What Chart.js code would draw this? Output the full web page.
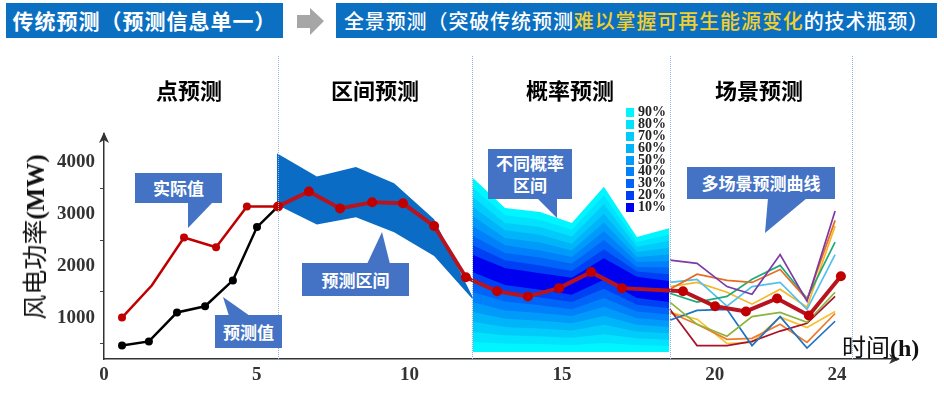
<!DOCTYPE html>
<html lang="zh">
<head>
<meta charset="UTF-8">
<title>风电功率预测</title>
<script src="https://cdn.jsdelivr.net/npm/chart.js"></script>
<style>
  body { margin: 0; background: #fff; }
  #wrap { position: relative; width: 944px; height: 412px; overflow: hidden; font-family: "Noto Sans CJK SC", sans-serif; }
  #chart { position: absolute; left: 0; top: 0; }
  .abs { position: absolute; }
  .banner { position: absolute; top: 3px; height: 35px; background: #0b6fc2; color: #fff; line-height: 35px; white-space: nowrap; }
  .sec { position: absolute; top: 73px; font-size: 22px; font-weight: 700; color: #000; transform: translateX(-50%); white-space: nowrap; }
  .vline { position: absolute; top: 56px; height: 303px; border-left: 1px dotted #8fb3e2; }
  .call { position: absolute; background: #4472c4; color: #fff; font-size: 17px; font-weight: 700; text-align: center; display: flex; align-items: center; justify-content: center; line-height: 22px; }
  .tail { position: absolute; left: 0; top: 0; width: 944px; height: 412px; background: #4472c4; }
  .serif { font-family: "Liberation Serif", serif; font-weight: 700; }
  #legend { position: absolute; left: 626px; top: 106px; }
  #legend div { height: 11.9px; line-height: 12px; font-family: "Liberation Serif", serif; font-weight: 700; font-size: 14px; color: #222; white-space: nowrap; }
  #legend span { display: inline-block; width: 8px; height: 9px; margin-right: 4px; vertical-align: -1px; }
</style>
</head>
<body>
<div id="wrap">
  <canvas id="chart" width="944" height="412"></canvas>

  <div class="vline" style="left:278px"></div>
  <div class="vline" style="left:472px"></div>
  <div class="vline" style="left:670px"></div>
  <div class="vline" style="left:852px"></div>

  <div class="banner" style="left:6px;width:277px;font-size:21px;font-weight:700;letter-spacing:1px;text-align:center">传统预测（预测信息单一）</div>
  <div class="abs" style="left:297px;top:8px;width:27px;height:27px;background:#a6a6a6;clip-path:polygon(0 7px,13px 7px,13px 0,27px 13px,13px 27px,13px 20px,0 20px)"></div>
  <div class="banner" style="left:336px;width:601px;font-size:20px;letter-spacing:0.9px;font-weight:500;text-align:center">全景预测（突破传统预测<span style="color:#f3cf2c">难以掌握可再生能源变化</span>的技术瓶颈）</div>

  <div class="sec" style="left:189px">点预测</div>
  <div class="sec" style="left:375px">区间预测</div>
  <div class="sec" style="left:570px">概率预测</div>
  <div class="sec" style="left:759px">场景预测</div>

  <div class="abs" style="left:33px;top:237px;transform:translate(-50%,-50%) rotate(-90deg);font-size:25px;white-space:nowrap;color:#111">风电功率<span class="serif">(MW)</span></div>
  <div class="abs" style="left:842px;top:328px;font-size:24px;white-space:nowrap;color:#111">时间<span class="serif">(h)</span></div>

  <div class="tail" style="clip-path:polygon(188px 202px,213px 202px,188px 228px)"></div>
  <div class="call" style="left:135px;top:173px;width:87px;height:30px">实际值</div>
  <div class="tail" style="clip-path:polygon(223px 297px,250px 316px,229px 316px)"></div>
  <div class="call" style="left:215px;top:315px;width:67px;height:33px">预测值</div>
  <div class="tail" style="clip-path:polygon(367px 264px,390px 264px,382px 232px)"></div>
  <div class="call" style="left:302px;top:263px;width:107px;height:33px">预测区间</div>
  <div class="tail" style="clip-path:polygon(537px 198px,557px 198px,557px 218px)"></div>
  <div class="call" style="left:488px;top:149px;width:84px;height:50px">不同概率<br>区间</div>
  <div class="tail" style="clip-path:polygon(768px 198px,807px 198px,765px 233px)"></div>
  <div class="call" style="left:687px;top:167px;width:148px;height:32px">多场景预测曲线</div>

  <div id="legend"></div>
</div>
<script>
  // axis ticks
  const xTicks = [0, 5, 10, 15, 20, 24];
  const yTicks = [500, 1000, 1500, 2000, 2500, 3000, 3500, 4000];

  // point forecast: actual (red) and predicted (black)
  const actualX = [0.59, 1.57, 2.62, 3.67, 4.68, 5.70, 6.71, 7.73, 8.78, 9.79, 10.81, 11.85,
                   12.87, 13.88, 14.90, 15.95, 16.96, 18.96, 20.01, 21.02, 22.04, 23.08, 24.13];
  const actualY = [1000, 1625, 2550, 2360, 3150, 3150, 3440, 3110, 3230, 3210, 2770, 1780,
                   1510, 1410, 1570, 1880, 1570, 1510, 1220, 1120, 1370, 1040, 1800];
  const predX = [0.59, 1.47, 2.39, 3.31, 4.22, 5.01, 5.70];
  const predY = [460, 540, 1100, 1220, 1720, 2750, 3150];

  // interval forecast band
  const bandX = [5.66, 6.97, 8.25, 9.50, 10.81, 12.08];
  const bandUpper = [4180, 3730, 3910, 3600, 2900, 1390];
  const bandLower = [3180, 2800, 2940, 2650, 2190, 1350];

  // probabilistic forecast, one row per level (10% .. 90%)
  const fanX = [12.08, 13.13, 14.28, 15.32, 16.37, 17.45, 18.50];
  const fanLevels = ['10%', '20%', '30%', '40%', '50%', '60%', '70%', '80%', '90%'];
  const fanUpper = [
    [2210, 1960, 1860, 1770, 2150, 1790, 1710],
    [2400, 2110, 2010, 1900, 2320, 1890, 1840],
    [2580, 2250, 2160, 2040, 2500, 1980, 1970],
    [2770, 2400, 2300, 2170, 2670, 2080, 2090],
    [2960, 2540, 2450, 2300, 2840, 2170, 2220],
    [3140, 2690, 2600, 2430, 3010, 2270, 2350],
    [3330, 2830, 2750, 2570, 3190, 2370, 2480],
    [3510, 2980, 2890, 2700, 3360, 2460, 2600],
    [3700, 3120, 3040, 2830, 3530, 2560, 2730]
  ];
  const fanLower = [
    [1880, 1630, 1540, 1440, 1730, 1380, 1300],
    [1690, 1470, 1390, 1300, 1560, 1250, 1180],
    [1490, 1310, 1240, 1160, 1380, 1120, 1060],
    [1300, 1140, 1090, 1030, 1210, 990, 940],
    [1110, 980, 940, 890, 1030, 860, 820],
    [920, 820, 790, 750, 860, 730, 700],
    [720, 660, 640, 610, 680, 600, 570],
    [530, 500, 490, 470, 510, 470, 450],
    [335, 335, 335, 335, 335, 335, 335]
  ];
  const fanColors = ['#0000f0', '#0040f5', '#0064f8', '#0080fa', '#009bfa', '#00b4fa', '#00cbfb', '#00e2fd', '#00f6ff'];

  // scenario forecast curves
  const scenX = [18.53, 19.42, 20.40, 21.22, 22.14, 23.02, 23.94];
  const scenarios = [
    [2110, 2050, 1600, 1450, 2220, 1320, 3060],
    [1550, 1840, 1720, 1680, 1930, 1350, 2880],
    [1470, 1300, 1410, 1740, 2010, 1370, 2460],
    [1680, 1740, 1220, 1600, 1680, 1160, 2220],
    [1600, 1680, 1490, 1260, 1550, 1200, 2770],
    [1300, 870, 640, 1020, 1100, 910, 1490],
    [950, 1140, 1160, 460, 1020, 410, 930],
    [1160, 460, 460, 540, 740, 890, 1410],
    [1100, 870, 580, 600, 870, 520, 1080],
    [1100, 970, 500, 520, 1010, 810, 1120]
  ];
  const scenColors = ['#7d3aa6', '#e66c22', '#1fac7a', '#52c0ee', '#f5b824', '#8db43c', '#1f72c4', '#a8122a', '#ef7b2a', '#f7c12f'];

  const xy = (xs, ys) => xs.map((x, i) => ({ x: x, y: ys[i] }));

  const datasets = [];
  datasets.push({
    label: '实际值', data: xy(actualX, actualY), order: 0,
    borderColor: '#c00000', backgroundColor: '#c00000', borderWidth: 2.5,
    pointRadius: actualX.map((x, i) => i === 1 ? 0 : (x < 5.6 ? 4 : 5)),
    pointBorderWidth: 0,
    segment: {
      borderWidth: c => c.p0.parsed.x >= 5.6 ? 4 : 2.5,
      borderColor: c => c.p0.parsed.x >= 5.6 ? '#b8141f' : '#c00000'
    }
  });
  datasets.push({
    label: '预测值', data: xy(predX, predY), order: 1,
    borderColor: '#000', backgroundColor: '#000', borderWidth: 2.5,
    pointRadius: 4, pointBorderWidth: 0
  });
  scenarios.forEach((s, i) => datasets.push({
    data: xy(scenX, s), order: 2, borderColor: scenColors[i], borderWidth: 1.7, pointRadius: 0
  }));
  datasets.push({ data: xy(bandX, bandUpper), order: 50, fill: '+1', backgroundColor: '#0b6cc6', borderColor: 'transparent', borderWidth: 0, pointRadius: 0 });
  datasets.push({ data: xy(bandX, bandLower), order: 50, fill: false, borderColor: 'transparent', borderWidth: 0, pointRadius: 0 });
  fanLevels.forEach((lv, i) => {
    datasets.push({ label: lv, data: xy(fanX, fanUpper[i]), order: 60 + i, fill: '+1', backgroundColor: fanColors[i], borderColor: 'transparent', borderWidth: 0, pointRadius: 0 });
    datasets.push({ data: xy(fanX, fanLower[i]), order: 60 + i, fill: false, borderColor: 'transparent', borderWidth: 0, pointRadius: 0 });
  });

  // legend for the probability levels
  const legend = document.getElementById('legend');
  fanLevels.slice().reverse().forEach((lv, i) => {
    const row = document.createElement('div');
    row.innerHTML = '<span style="background:' + fanColors[fanLevels.length - 1 - i] + '"></span>' + lv;
    legend.appendChild(row);
  });

  // arrow heads on both axes
  const axisArrows = {
    id: 'axisArrows',
    afterDraw(chart) {
      const { ctx, chartArea: a } = chart;
      ctx.save();
      ctx.fillStyle = '#333';
      ctx.beginPath();
      ctx.moveTo(a.right + 2, a.bottom);
      ctx.lineTo(a.right - 9, a.bottom - 5);
      ctx.lineTo(a.right - 6, a.bottom);
      ctx.lineTo(a.right - 9, a.bottom + 5);
      ctx.closePath();
      ctx.fill();
      ctx.beginPath();
      ctx.moveTo(a.left, a.top - 2);
      ctx.lineTo(a.left - 5, a.top + 9);
      ctx.lineTo(a.left, a.top + 6);
      ctx.lineTo(a.left + 5, a.top + 9);
      ctx.closePath();
      ctx.fill();
      ctx.restore();
    }
  };

  new Chart(document.getElementById('chart').getContext('2d'), {
    type: 'line',
    data: { datasets: datasets },
    options: {
      responsive: false,
      animation: false,
      layout: { padding: { left: 0, top: 134, right: 46, bottom: 0 } },
      plugins: { legend: { display: false }, tooltip: { enabled: false } },
      scales: {
        x: {
          type: 'linear', min: 0, max: 26,
          afterBuildTicks: s => { s.ticks = xTicks.map(v => ({ value: v })); },
          afterFit: s => { s.height = 53; },
          grid: { display: false, drawTicks: false },
          border: { display: true, color: '#333', width: 1.5 },
          ticks: { padding: 5, autoSkip: false, maxRotation: 0, color: '#333', font: { family: 'Liberation Serif', weight: 'bold', size: 19 } }
        },
        y: {
          min: 200, max: 4550,
          afterBuildTicks: s => { s.ticks = yTicks.map(v => ({ value: v })); },
          afterFit: s => { s.width = 104; },
          grid: { drawOnChartArea: false, drawTicks: true, tickLength: 4, color: c => (c.tick && c.tick.value % 1000 === 500) ? '#444' : 'transparent' },
          border: { display: true, color: '#333', width: 1.5 },
          ticks: {
            padding: 5, autoSkip: false, color: '#333',
            font: { family: 'Liberation Serif', weight: 'bold', size: 19 },
            callback: v => v % 1000 === 0 ? String(v) : ''
          }
        }
      }
    },
    plugins: [axisArrows]
  });
</script>
</body>
</html>
